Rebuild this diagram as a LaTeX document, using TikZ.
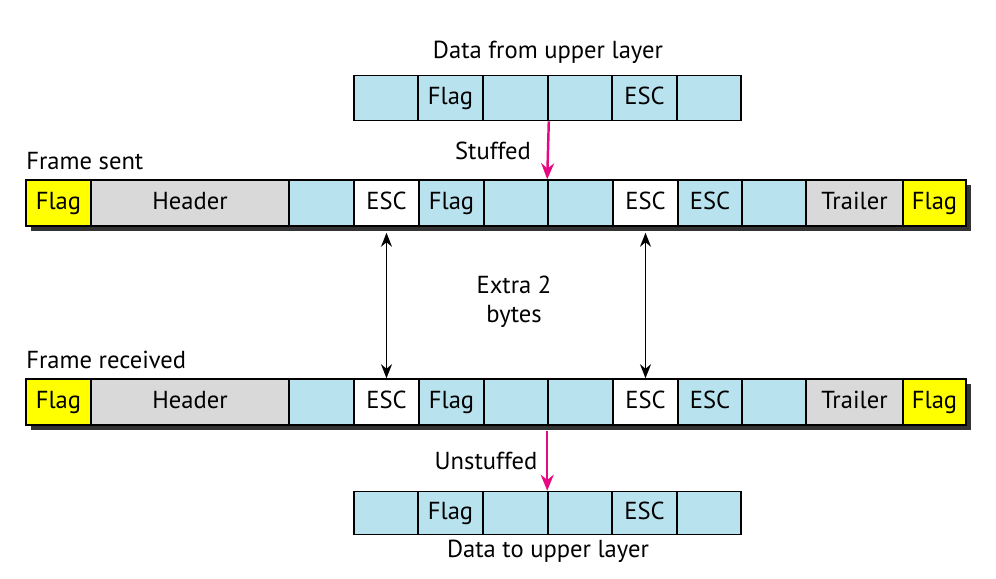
\documentclass[tikz,border=0pt]{standalone}
\usepackage{fontspec}
\setmainfont{PT Sans}
\usetikzlibrary{arrows.meta, positioning}
\definecolor{FlagYellow}{HTML}{FFFF00}
\definecolor{DataBlue}{HTML}{B8E2EE}
\definecolor{HeadGray}{HTML}{D9D9D9}
\definecolor{ShadowGray}{HTML}{333333}
\definecolor{Magenta}{HTML}{E6097F}
\tikzset{
  cell/.style={rectangle, draw=black, line width=0.9pt, inner sep=0pt,
               minimum height=0.9cm, text height=0.7em, text depth=0pt,
               font=\fontsize{14}{16.8}\selectfont},
  flagcell/.style={cell, fill=FlagYellow},
  hdrcell/.style={cell, fill=HeadGray},
  datcell/.style={cell, fill=DataBlue},
  esccell/.style={cell, fill=white},
  lbl/.style={font=\fontsize{14}{16.8}\selectfont, inner sep=0pt},
  pinkarrow/.style={-{Stealth[length=3.2mm,width=2.6mm]}, line width=1.4pt, Magenta},
  bytearrow/.style={{Stealth[length=2.8mm,width=2.2mm]}-{Stealth[length=2.8mm,width=2.2mm]}, line width=0.9pt}
}
\begin{document}
\begin{tikzpicture}[x=0.02cm, y=-0.02cm]
    \useasboundingbox (0,0) rectangle (996,578);

    % Data from upper layer
    \foreach \n/\a/\b/\txt in {1/354/418/, 2/418/483/Flag, 3/483/548/, 4/548/612/,
                               5/612/677/ESC, 6/677/741/} {
        \node[datcell, minimum width={(\b-\a)*0.02cm}] (d\n) at ({(\a+\b)/2},98) {\txt};
    }
    \node[lbl] (toplbl) at (548,52) {Data from upper layer};

    % Frames sent and received
    \foreach \pre/\y in {s/203, r/402} {
        \fill[ShadowGray] (31,\y-18) rectangle (971,\y+28);
        \foreach \n/\a/\b/\sty/\txt in {1/26/91/flagcell/Flag, 2/91/289/hdrcell/Header,
                 3/289/354/datcell/, 4/354/419/esccell/ESC, 5/419/484/datcell/Flag,
                 6/484/548/datcell/, 7/548/613/datcell/, 8/613/678/esccell/ESC,
                 9/678/742/datcell/ESC, 10/742/806/datcell/, 11/806/903/hdrcell/Trailer,
                 12/903/966/flagcell/Flag} {
            \node[\sty, minimum width={(\b-\a)*0.02cm}, minimum height=0.92cm]
                (\pre\n) at ({(\a+\b)/2},\y) {\txt};
        }
    }
    \node[lbl, anchor=west] (sentlbl) at (26,161) {Frame sent};
    \node[lbl, anchor=west] (recvlbl) at (26,360) {Frame received};

    % Data to upper layer
    \foreach \n/\a/\b/\txt in {1/354/418/, 2/418/483/Flag, 3/483/548/, 4/548/612/,
                               5/612/677/ESC, 6/677/741/} {
        \node[datcell, minimum width={(\b-\a)*0.02cm}, minimum height=0.86cm]
            (u\n) at ({(\a+\b)/2},513) {\txt};
    }
    \node[lbl] (botlbl) at (548,551) {Data to upper layer};

    % Stuffing and unstuffing
    \draw[pinkarrow] (d3.south east) -- (s7.north west);
    \node[lbl] (stuff) at (493,151) {Stuffed};
    \draw[pinkarrow] ([yshift=-0.1cm]r7.south west) -- (u4.north west);
    \node[lbl] (unstuff) at (486,461) {Unstuffed};

    % Extra bytes
    \draw[bytearrow] ([yshift=-0.12cm]s4.south) -- (r4.north);
    \draw[bytearrow] ([yshift=-0.12cm]s8.south) -- (r8.north);
    \node[lbl, align=center] (extra) at (514,302) {Extra 2\\bytes};
\end{tikzpicture}
\end{document}
